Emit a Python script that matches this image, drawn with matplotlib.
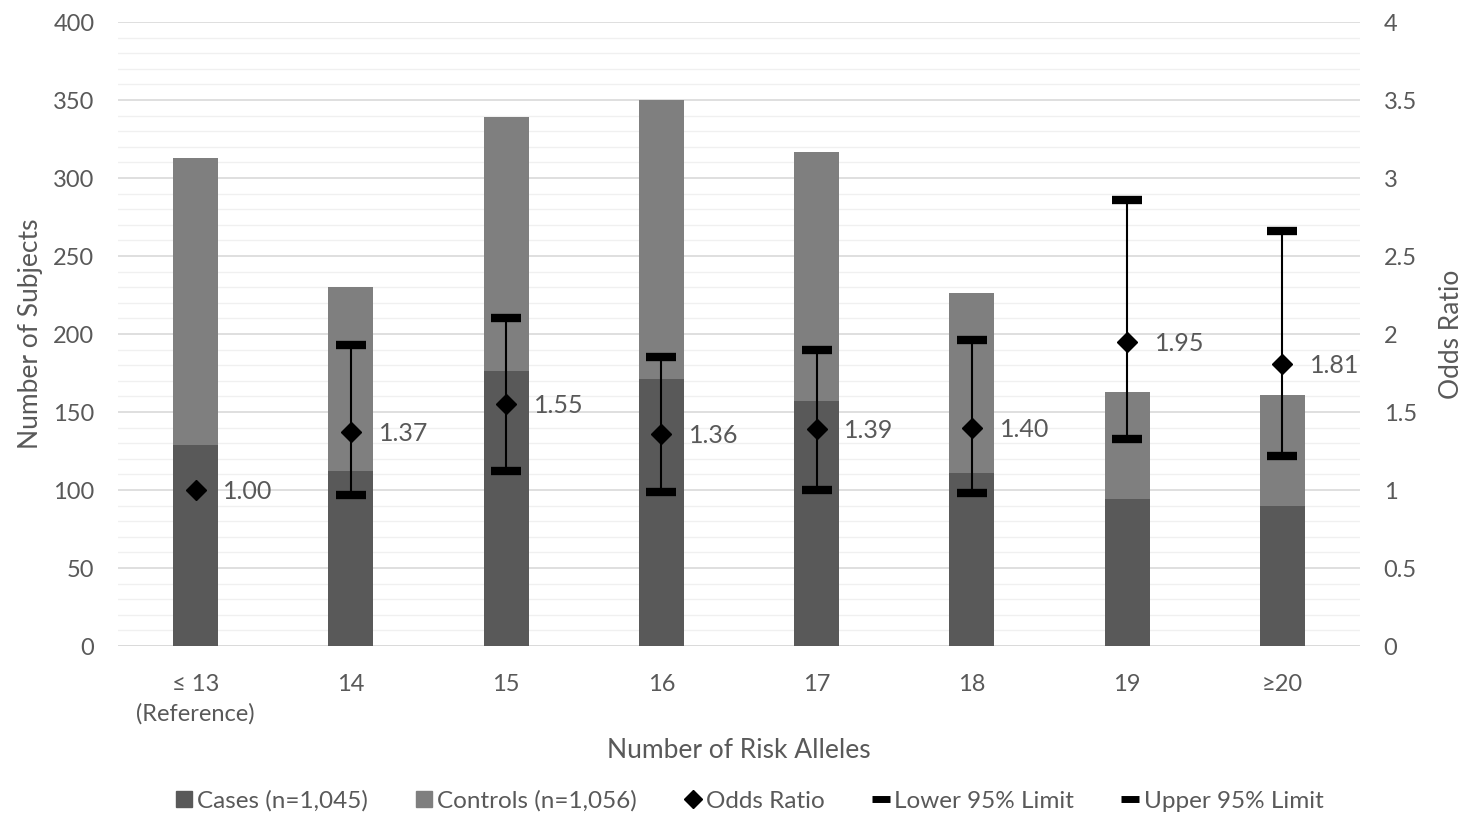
import matplotlib.pyplot as plt
from matplotlib.lines import Line2D
from matplotlib.ticker import MultipleLocator
import numpy as np

plt.rcParams['font.family'] = ['Lato', 'DejaVu Sans']

categories = ["\u2264 13\n(Reference)", "14", "15", "16", "17", "18", "19", "\u226520"]
cases = [129, 112, 176, 171, 157, 111, 94, 90]
controls = [184, 118, 163, 179, 160, 115, 69, 71]
odds_ratio = [1.00, 1.37, 1.55, 1.36, 1.39, 1.40, 1.95, 1.81]
lower_95 = [None, 0.97, 1.12, 0.99, 1.00, 0.98, 1.33, 1.22]
upper_95 = [None, 1.93, 2.10, 1.85, 1.90, 1.96, 2.86, 2.66]

grey_txt = "#595959"
c_cases = "#595959"
c_controls = "#7f7f7f"

fig = plt.figure(figsize=(14.68, 8.19), dpi=100)
ax = fig.add_axes([0.0804, 0.2112, 0.846, 0.7619])
x = np.arange(len(categories))

ax.bar(x, cases, width=0.29, color=c_cases, zorder=2)
ax.bar(x, controls, width=0.29, bottom=cases, color=c_controls, zorder=2)

ax.set_xlim(-0.5, 7.5)
ax.set_ylim(0, 400)
ax.yaxis.set_major_locator(MultipleLocator(50))
ax.yaxis.set_minor_locator(MultipleLocator(10))
ax.grid(axis='y', which='major', color='#d9d9d9', lw=1.2, zorder=0)
ax.grid(axis='y', which='minor', color='#f0f0f0', lw=1.0, zorder=0)
ax.set_axisbelow(True)
for s in ax.spines.values():
    s.set_visible(False)
ax.axhline(0, color='#d9d9d9', lw=1.2, zorder=1)
ax.tick_params(axis='both', which='both', length=0, labelsize=17, colors=grey_txt)
ax.tick_params(axis='y', pad=17)
ax.tick_params(axis='x', pad=20)
ax.set_xticks(x)
ax.set_xticklabels(categories, linespacing=1.45)
ax.set_ylabel("Number of Subjects", fontsize=19, color=grey_txt, labelpad=7)
ax.set_xlabel("Number of Risk Alleles", fontsize=19, color=grey_txt, labelpad=10)

ax2 = ax.twinx()
ax2.set_ylim(0, 4)
ax2.set_yticks(np.arange(0, 4.01, 0.5))
ax2.set_yticklabels(["0", "0.5", "1", "1.5", "2", "2.5", "3", "3.5", "4"])
for s in ax2.spines.values():
    s.set_visible(False)
ax2.tick_params(axis='y', length=0, labelsize=17, colors=grey_txt, pad=17)
ax2.set_ylabel("Odds Ratio", fontsize=19, color=grey_txt, labelpad=16)

for i in range(len(x)):
    if lower_95[i] is not None:
        ax2.plot([x[i], x[i]], [lower_95[i], upper_95[i]], color='black', lw=1.5, zorder=3)
lx = [x[i] for i in range(len(x)) if lower_95[i] is not None]
ax2.plot(lx, [v for v in lower_95 if v is not None], ls='none', marker='_', ms=22, mew=6,
         color='black', zorder=4)
ax2.plot(lx, [v for v in upper_95 if v is not None], ls='none', marker='_', ms=22, mew=6,
         color='black', zorder=4)
ax2.plot(x, odds_ratio, ls='none', marker='D', ms=10, color='black', zorder=5)
for i, v in enumerate(odds_ratio):
    ax2.annotate("%.2f" % v, (x[i], v), xytext=(20, -1), textcoords='offset points',
                 va='center', ha='left', fontsize=18, color=grey_txt)

handles = [
    Line2D([], [], ls='none', marker='s', ms=11, color=c_cases),
    Line2D([], [], ls='none', marker='s', ms=11, color=c_controls),
    Line2D([], [], ls='none', marker='D', ms=9, color='black'),
    Line2D([], [], ls='none', marker='_', ms=13, mew=5, color='black'),
    Line2D([], [], ls='none', marker='_', ms=13, mew=5, color='black'),
]
labels = ["Cases (n=1,045)", "Controls (n=1,056)", "Odds Ratio", "Lower 95% Limit", "Upper 95% Limit"]
leg = fig.legend(handles, labels, loc='center', bbox_to_anchor=(0.51, 0.022), ncol=5, frameon=False,
                 fontsize=17.5, handlelength=0.8, handletextpad=0.15, columnspacing=1.9)
for t in leg.get_texts():
    t.set_color(grey_txt)

fig.savefig("out.png", dpi=100)
